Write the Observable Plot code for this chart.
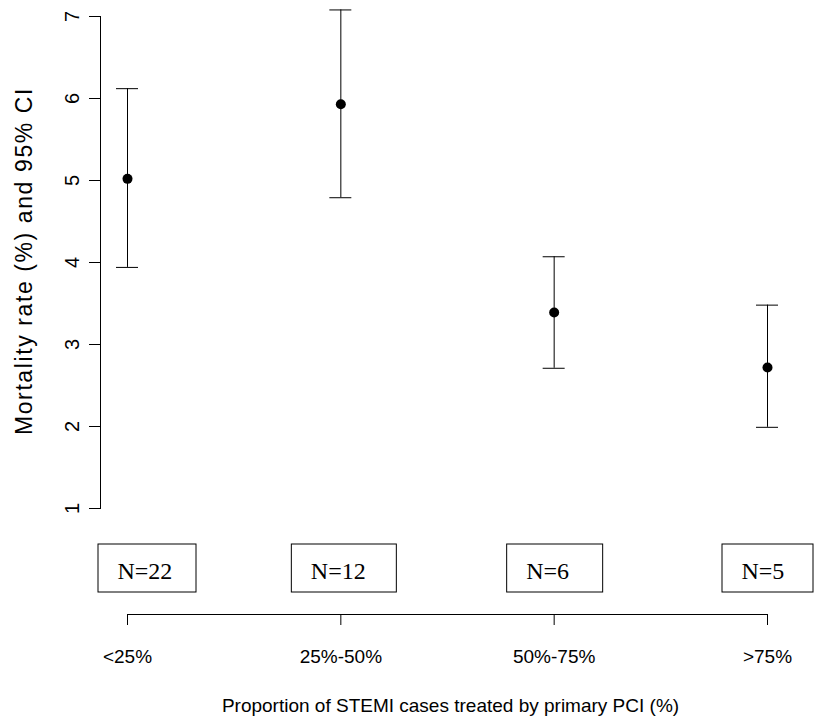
<!DOCTYPE html>
<html><head><meta charset="utf-8">
<script src="https://cdn.jsdelivr.net/npm/d3@7"></script>
<script src="https://cdn.jsdelivr.net/npm/@observablehq/plot@0.6"></script>
<style>body{margin:0;background:#fff}</style>
</head><body><div id="chart"></div>
<script>
const categories = ["<25%", "25%-50%", "50%-75%", ">75%"];
const mortality = [5.02, 5.93, 3.39, 2.72];
const ciLower = [3.94, 4.79, 2.71, 1.99];
const ciUpper = [6.12, 7.08, 4.07, 3.48];
const nLabels = ["N=22", "N=12", "N=6", "N=5"];
const yTicks = [1, 2, 3, 4, 5, 6, 7];
const xTitle = "Proportion of STEMI cases treated by primary PCI (%)";
const yTitle = "Mortality rate (%) and 95% CI";

const data = categories.map((c, i) => ({pos: i + 1, cat: c, rate: mortality[i], lo: ciLower[i], hi: ciUpper[i], n: nLabels[i]}));
const positions = data.map(d => d.pos);

// layout of the N= boxes (pixels relative to each category tick)
const boxPadL = [29, 49, 47, 45];
const boxPadR = [69, 56, 49, 46];
const sans = "'Liberation Sans', Arial, Helvetica, sans-serif";
const serif = "'Liberation Serif', 'Times New Roman', serif";
const axisShift = 106;

const boxMarks = data.flatMap((d, i) => [
  Plot.rect([d], {x1: "pos", x2: "pos", y1: () => yTicks[0], y2: () => yTicks[0],
    insetLeft: -boxPadL[i], insetRight: -boxPadR[i], insetTop: 0, insetBottom: -48, dy: 36,
    fill: "none", stroke: "black", strokeWidth: 1}),
  Plot.text([d], {x: "pos", y: () => yTicks[0], text: "n", textAnchor: "start", lineAnchor: "bottom",
    dx: -boxPadL[i] + 19, dy: 70, fontSize: 24, fontFamily: serif, fill: "black"})
]);

const chart = Plot.plot({
  width: 814,
  height: 717,
  marginLeft: 100,
  marginRight: 0,
  marginTop: 16,
  marginBottom: 209,
  style: {fontFamily: sans, background: "white", color: "black"},
  x: {type: "linear", domain: [positions[0], positions[positions.length - 1]], insetLeft: 27, insetRight: 47},
  y: {domain: [yTicks[0], yTicks[yTicks.length - 1]]},
  marks: [
    Plot.frame({anchor: "left", stroke: "black"}),
    Plot.axisY({ticks: yTicks, tickSize: 11, tickPadding: 11, tickRotate: -90, fontSize: 20, label: null, tickFormat: d => String(d)}),
    Plot.axisX({ticks: positions, tickSize: 11, tickPadding: 24, dy: axisShift, fontSize: 19, label: null,
      tickFormat: d => categories[d - 1]}),
    Plot.ruleY([yTicks[0]], {x1: positions[0], x2: positions[positions.length - 1], dy: axisShift, stroke: "black"}),
    Plot.text([yTitle], {frameAnchor: "left", textAnchor: "middle", rotate: -90, lineAnchor: "bottom", dx: -69, dy: -1.5, fontSize: 23, fill: "black"}),
    Plot.text([xTitle], {frameAnchor: "bottom", textAnchor: "middle", lineAnchor: "bottom", dx: -7, dy: 203, fontSize: 19, fill: "black"}),
    Plot.ruleX(data, {x: "pos", y1: "lo", y2: "hi", stroke: "black", strokeWidth: 1}),
    Plot.ruleY(data, {y: "lo", x1: "pos", x2: "pos", insetLeft: -11, insetRight: -11, stroke: "black"}),
    Plot.ruleY(data, {y: "hi", x1: "pos", x2: "pos", insetLeft: -11, insetRight: -11, stroke: "black"}),
    Plot.dot(data, {x: "pos", y: "rate", r: 5, fill: "black", stroke: "none"}),
    ...boxMarks
  ]
});

d3.select(chart).selectAll("text").filter(function() { return this.textContent === yTitle; })
  .style("letter-spacing", "1.6px");
document.getElementById("chart").appendChild(chart);
</script>
</body></html>
